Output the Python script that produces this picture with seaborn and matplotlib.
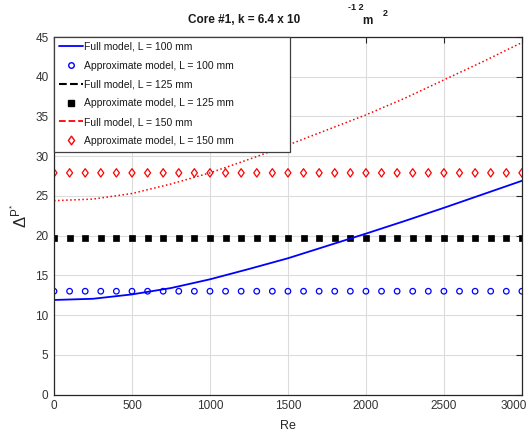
import numpy as np
import pandas as pd
import matplotlib
matplotlib.use("Agg")
import matplotlib.pyplot as plt
import matplotlib.transforms as mtransforms
from matplotlib.path import Path
from matplotlib.patches import Rectangle
import seaborn as sns
from matplotlib.lines import Line2D

# ---- data ----
re_curve = [0, 250, 500, 750, 1000, 1250, 1500, 1750, 2000, 2250, 2500, 2750, 3000]
full_100 = [11.9, 12.05, 12.6, 13.4, 14.5, 15.8, 17.15, 18.7, 20.25, 21.85, 23.5, 25.2, 26.9]
full_150 = [24.4, 24.6, 25.3, 26.5, 27.9, 29.6, 31.4, 33.3, 35.2, 37.3, 39.6, 41.9, 44.3]
re_markers = list(range(0, 3001, 100))
approx_100 = [13.0] * len(re_markers)
approx_125 = [19.75] * len(re_markers)
approx_150 = [27.9] * len(re_markers)

x_ticks = [0, 500, 1000, 1500, 2000, 2500, 3000]
y_ticks = [0, 5, 10, 15, 20, 25, 30, 35, 40, 45]

sns.set_theme(style="white")
plt.rcParams['font.family'] = ['Liberation Sans', 'DejaVu Sans']
plt.rcParams['mathtext.fontset'] = 'custom'
plt.rcParams['mathtext.rm'] = 'Liberation Sans'
plt.rcParams['mathtext.it'] = 'Liberation Sans'

diamond = Path([(0, 1), (0.72, 0), (0, -1), (-0.72, 0), (0, 1)],
               [Path.MOVETO, Path.LINETO, Path.LINETO, Path.LINETO, Path.CLOSEPOLY])

fig = plt.figure(figsize=(5.32, 4.38), dpi=100)
ax = fig.add_axes([0.1015, 0.0993, 0.8795, 0.8162])

curves = pd.DataFrame({"Re": re_curve, "f100": full_100, "f150": full_150})
marks = pd.DataFrame({"Re": re_markers, "a100": approx_100, "a125": approx_125, "a150": approx_150})

sns.lineplot(data=curves, x="Re", y="f100", ax=ax, color="#0000ff", lw=1.3, legend=False)
sns.lineplot(data=curves, x="Re", y="f150", ax=ax, color="#ff0000", lw=1.1, ls=":", legend=False)
sns.scatterplot(data=marks, x="Re", y="a100", ax=ax, marker="o", s=16,
                facecolor="none", edgecolor="#0000ff", linewidth=0.9, legend=False)
sns.scatterplot(data=marks, x="Re", y="a125", ax=ax, marker="s", s=18,
                color="black", edgecolor="black", linewidth=0.5, legend=False)
sns.scatterplot(data=marks, x="Re", y="a150", ax=ax, marker=diamond, s=36,
                facecolor="none", edgecolor="#ff0000", linewidth=0.9, legend=False)

ax.set_xlim(0, 3000)
ax.set_ylim(0, 45)
ax.set_xticks(x_ticks)
ax.set_yticks(y_ticks)
ax.tick_params(axis='both', which='both', direction='in', length=4, width=0.8,
               labelsize=8.5, colors='#262626', top=True, right=True,
               labeltop=False, labelright=False, pad=4)
ax.tick_params(axis='both', labelcolor='#333333')
ax.grid(True, color='#dcdcdc', lw=0.8)
for sp in ax.spines.values():
    sp.set_color('#262626')
    sp.set_linewidth(0.9)
    sp.set_visible(True)

# shift the last x tick label inward so it stays inside the figure
fig.canvas.draw()
last = ax.get_xticklabels()[-1]
last.set_transform(last.get_transform() + mtransforms.ScaledTranslation(-8 / 100, 0, fig.dpi_scale_trans))

ax.set_xlabel("Re", fontsize=9, color='#262626', labelpad=6)
ax.set_ylabel(r"$\Delta^{\mathrm{P}^{*}}$", fontsize=12, color='#262626', labelpad=4)

handles = [
    Line2D([], [], color="#0000ff", lw=1.3),
    Line2D([], [], ls="none", marker="o", mfc="none", mec="#0000ff", ms=4),
    Line2D([], [], color="black", lw=1.5, ls="--"),
    Line2D([], [], ls="none", marker="s", mfc="black", mec="black", ms=4),
    Line2D([], [], color="#ff0000", lw=1.3, ls="--"),
    Line2D([], [], ls="none", marker=diamond, mfc="none", mec="#ff0000", ms=6.2),
]
labels = ["Full model, L = 100 mm", "Approximate model, L = 100 mm",
          "Full model, L = 125 mm", "Approximate model, L = 125 mm",
          "Full model, L = 150 mm", "Approximate model, L = 150 mm"]

# MATLAB-style legend frame (wider than the text)
frame = Rectangle((0, 0.679), 0.504, 0.321, transform=ax.transAxes, facecolor="white",
                  edgecolor="#404040", lw=0.9, zorder=4, clip_on=False)
ax.add_patch(frame)
leg = ax.legend(handles, labels, loc="upper left", bbox_to_anchor=(0, 1.0),
                borderaxespad=0, fontsize=7.5, handlelength=2.3, handletextpad=0.15,
                labelspacing=0.85, borderpad=0.45, frameon=False)
leg.set_zorder(5)
for t in leg.get_texts():
    t.set_color('#1a1a1a')

# title pieces (MATLAB-like spacing)
fig.text(244 / 532, 1 - 20 / 438, "Core #1, k = 6.4 x 10", ha="center", va="center",
         fontsize=8.5, fontweight="bold", color='#1a1a1a')
fig.text(356 / 532, 1 - 8 / 438, "-1 2", ha="center", va="center",
         fontsize=6.5, fontweight="bold", color='#1a1a1a')
fig.text(367 / 532, 1 - 21 / 438, "m", ha="center", va="center",
         fontsize=8.5, fontweight="bold", color='#1a1a1a')
fig.text(385 / 532, 1 - 13 / 438, "2", ha="center", va="center",
         fontsize=6.5, fontweight="bold", color='#1a1a1a')

fig.savefig("out.png", dpi=100, facecolor="white")
